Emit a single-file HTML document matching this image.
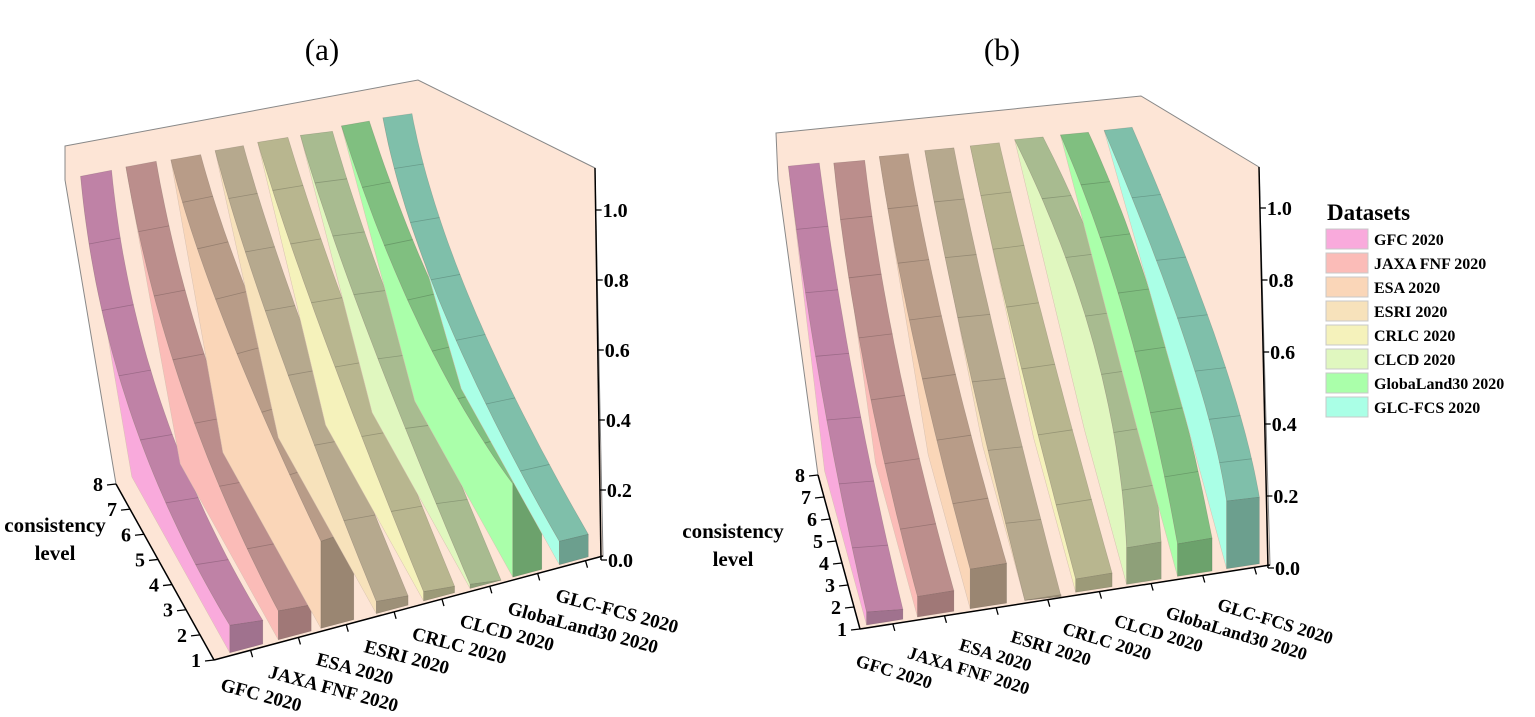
<!DOCTYPE html>
<html><head><meta charset="utf-8">
<style>
html,body{margin:0;padding:0;background:#fff;}
svg{display:block;font-family:"Liberation Serif",serif;font-weight:bold;}
</style></head>
<body>
<svg id="s" width="1535" height="717" viewBox="0 0 1535 717" xmlns="http://www.w3.org/2000/svg">
<text x="322" y="60" font-size="31" font-weight="normal" text-anchor="middle">(a)</text>
<text x="1002" y="60" font-size="31" font-weight="normal" text-anchor="middle">(b)</text>
<g id="pa"></g><g id="pb"></g>
<g id="leg">
<text x="1327" y="220" font-size="23">Datasets</text>
</g>
</svg>
<script>
var NS="http://www.w3.org/2000/svg";
function el(p,t,a,txt){var e=document.createElementNS(NS,t);for(var k in a)e.setAttribute(k,a[k]);if(txt!==undefined)e.textContent=txt;p.appendChild(e);return e;}
var cols=[["#f9aadc","#bf82a6","#a0728e"],["#fbbcb8","#bb8e8c","#a07877"],["#fad6b8","#b89c88","#9a8672"],["#f7e2bb","#b6a98e","#9d9078"],["#f5f2bb","#b8b68f","#9c9a78"],["#e0f7bf","#a8bb90","#8ea079"],["#aaffaa","#80bf80","#6ca26c"],["#aaffe6","#7fbfaa","#6c9f8e"]];
var names=["GFC 2020","JAXA FNF 2020","ESA 2020","ESRI 2020","CRLC 2020","CLCD 2020","GlobaLand30 2020","GLC-FCS 2020"];
function pts(a){return a.map(function(p){return p[0].toFixed(1)+","+p[1].toFixed(1)}).join(" ");}
function panel(g,cfg){
  var M=cfg.map;
  el(g,"polygon",{points:pts(cfg.wall),fill:"#fde5d6",stroke:"#888","stroke-width":1});
  var A0=cfg.ax0,A1=cfg.ax1;
  function axY(x){return A0[1]+(A1[1]-A0[1])*(x-A0[0])/(A1[0]-A0[0]);}
  var D=cfg.D;
  cfg.bars.forEach(function(b,i){
    var B=M(b[0]),BR=M(b[1]),Mi=M(b[2]),F=M(b[3]),FR=M(b[4]);
    var C=[2*Mi[0]-(B[0]+F[0])/2,2*Mi[1]-(B[1]+F[1])/2];
    var L=[],R=[],N=40;
    function q(t){var u=1-t;return [u*u*B[0]+2*u*t*C[0]+t*t*F[0],u*u*B[1]+2*u*t*C[1]+t*t*F[1]];}
    function r(t){var p=q(t);return [p[0]+(BR[0]-B[0])*(1-t)+(FR[0]-F[0])*t,p[1]+(BR[1]-B[1])*(1-t)+(FR[1]-F[1])*t];}
    for(var k=0;k<=N;k++){L.push(q(k/N));R.push(r(k/N));}
    var FBl=[F[0],axY(F[0])-3],FBr=[FR[0],axY(FR[0])-3];
    var BK=[FBl[0]+D[0],FBl[1]+D[1]];
    el(g,"polygon",{points:pts(L.concat([FBl,BK])),fill:cols[i][0],stroke:"#d8c0b0","stroke-width":0.5});
    el(g,"polygon",{points:pts(L.concat(R.slice().reverse())),fill:cols[i][1],stroke:"rgba(0,0,0,0.15)","stroke-width":0.6});
    for(var k=1;k<7;k++){var t=k/7;var a=q(t),c=r(t);el(g,"line",{x1:a[0],y1:a[1],x2:c[0],y2:c[1],stroke:"rgba(0,0,0,0.18)","stroke-width":0.8});}
    el(g,"polygon",{points:pts([F,FR,FBr,FBl]),fill:cols[i][2],stroke:"rgba(0,0,0,0.15)","stroke-width":0.6});
  });
  el(g,"line",{x1:A0[0],y1:A0[1],x2:A1[0],y2:A1[1],stroke:"#000","stroke-width":1.5});
  for(var i=0;i<8;i++){
    var f=cfg.tf0+cfg.tfs*i;var cx=A0[0]+(A1[0]-A0[0])*f,cy=A0[1]+(A1[1]-A0[1])*f;
    el(g,"line",{x1:cx,y1:cy,x2:cx+2,y2:cy+7,stroke:"#000","stroke-width":1.3});
    var tx=cx+cfg.lo[0],ty=cy+cfg.lo[1];
    el(g,"text",{x:tx,y:ty,"font-size":cfg.fs,transform:"rotate("+cfg.rot+" "+tx+" "+ty+")"},names[i]);
  }
  var P8=[A0[0]+D[0],A0[1]+D[1]];
  el(g,"line",{x1:A0[0],y1:A0[1],x2:P8[0],y2:P8[1],stroke:"#000","stroke-width":1.5});
  for(var k=0;k<8;k++){var p=[A0[0]+D[0]*k/7,A0[1]+D[1]*k/7];
    el(g,"line",{x1:p[0],y1:p[1],x2:p[0]-9,y2:p[1]+1,stroke:"#000","stroke-width":1.3});
    el(g,"text",{x:p[0]-13,y:p[1]+7,"font-size":20,"text-anchor":"end"},String(k+1));}
  var V=cfg.vax;
  el(g,"line",{x1:V[0],y1:V[1],x2:V[2],y2:V[3],stroke:"#000","stroke-width":1.5});
  for(var k=0;k<=5;k++){var y=cfg.v0-k*cfg.vs;var x=V[2]+(V[0]-V[2])*(V[3]-y)/(V[3]-V[1]);
    el(g,"line",{x1:x,y1:y,x2:x+6,y2:y,stroke:"#000","stroke-width":1.3});
    el(g,"text",{x:x+7,y:y+7,"font-size":20},(k*0.2).toFixed(1));}
  el(g,"text",{x:cfg.title[0],y:cfg.title[1],"font-size":21,"text-anchor":"middle"},"consistency");
  el(g,"text",{x:cfg.title[0],y:cfg.title[1]+28,"font-size":21,"text-anchor":"middle"},"level");
}
panel(document.getElementById("pa"),{
  map:function(p){return [0.3876*p[0]+5,0.41*p[1]+80];},
  wall:[[65,146],[418,80],[595,168],[603,556],[214,660],[116,484],[65,180]],
  ax0:[214,660],ax1:[603,556],D:[-98,-176],
  tf0:0.094,tfs:0.123,fs:19,rot:15,lo:[-31,40],
  vax:[595,168,601,560],v0:560,vs:70,title:[55,532],
  bars:[
   [[195,235],[275,220],[320,800],[580,1330],[665,1318]],
   [[312,212],[390,198],[460,760],[705,1295],[790,1280]],
   [[428,195],[505,182],[570,600],[815,1125],[900,1098]],
   [[542,172],[615,160],[700,640],[958,1272],[1040,1258]],
   [[652,152],[730,140],[820,620],[1080,1248],[1160,1235]],
   [[762,135],[845,125],[930,600],[1200,1230],[1280,1220]],
   [[868,112],[940,100],[1070,600],[1310,985],[1385,965]],
   [[975,92],[1050,82],[1130,560],[1430,1125],[1505,1108]]
  ]});
panel(document.getElementById("pb"),{
  map:function(p){return [0.3637*p[0]+752,0.3895*p[1]+96];},
  wall:[[776,133],[1141,96],[1259,167],[1270,565],[860,629],[818,475],[778,180]],
  ax0:[860,629],ax1:[1270,565],D:[-42,-154],
  tf0:0.08,tfs:0.126,fs:18,rot:17,lo:[-38,42],
  vax:[1259,167,1268,568],v0:568,vs:72,title:[733,538],
  bars:[
   [[100,180],[185,172],[190,750],[315,1325],[415,1318]],
   [[225,172],[310,165],[310,700],[455,1285],[555,1270]],
   [[350,155],[430,148],[450,650],[600,1215],[700,1200]],
   [[475,140],[555,133],[585,650],[750,1295],[850,1285]],
   [[600,128],[680,120],[720,620],[890,1240],[990,1225]],
   [[722,112],[800,105],[940,640],[1030,1160],[1125,1145]],
   [[848,100],[925,93],[1030,580],[1170,1150],[1265,1135]],
   [[968,88],[1045,80],[1195,640],[1305,1040],[1395,1030]]
  ]});
var lg=document.getElementById("leg");
for(var i=0;i<8;i++){var y=229+i*24;
  el(lg,"rect",{x:1326,y:y,width:42,height:20,fill:cols[i][0],stroke:"#c8c8c8","stroke-width":1});
  el(lg,"text",{x:1374,y:y+16,"font-size":16},names[i]);}
</script>
</body></html>
